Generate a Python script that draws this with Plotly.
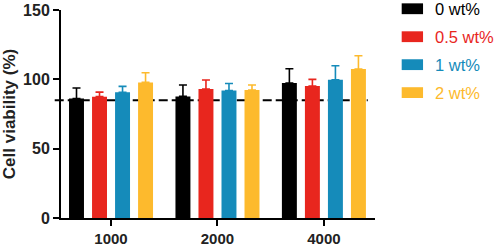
import plotly.graph_objects as go

categories = ["1000", "2000", "4000"]
series_names = ["0 wt%", "0.5 wt%", "1 wt%", "2 wt%"]
values = [
    [86.2, 87.7, 97.3],
    [87.5, 93.0, 95.2],
    [90.6, 92.0, 99.7],
    [97.8, 92.3, 107.4],
]
errors = [
    [7.5, 8.2, 10.3],
    [3.3, 6.5, 4.8],
    [4.3, 5.0, 10.1],
    [7.0, 3.6, 9.6],
]
threshold = 85
y_ticks = [0, 50, 100, 150]
colors = ["#000000", "#E8261E", "#158BBA", "#FDBA2D"]

fig = go.Figure()
for name, vals, err, col in zip(series_names, values, errors, colors):
    fig.add_trace(go.Bar(
        x=categories, y=vals, name=name,
        marker=dict(color=col, line=dict(width=0)),
        error_y=dict(type="data", array=err, arrayminus=[0] * len(err), symmetric=False,
                     color=col, thickness=1.6, width=4),
        showlegend=False,
    ))

# threshold dashed line
fig.add_shape(type="line", xref="paper", yref="y", x0=-0.02, x1=0.977, y0=threshold, y1=threshold,
              line=dict(color="black", width=2, dash="9px,4px"), layer="below")

# manual legend
for i, (name, col) in enumerate(zip(series_names, colors)):
    yc = 1.006 - i * 0.1344
    fig.add_shape(type="rect", xref="paper", yref="paper", x0=1.085, x1=1.153,
                  y0=yc - 0.026, y1=yc + 0.026, fillcolor=col, line=dict(width=0))
    fig.add_annotation(xref="paper", yref="paper", x=1.19, y=yc, text=name, showarrow=False,
                       xanchor="left", yanchor="middle", xshift=-2,
                       font=dict(family="Arial, Liberation Sans", size=16.5, color=col))

xtickfont = dict(size=15, family="Arial, Liberation Sans", weight="bold", color="#222")
ytickfont = dict(size=16, family="Arial, Liberation Sans", weight="bold", color="#222")
fig.update_layout(
    width=498, height=246,
    margin=dict(l=61, r=123, t=10, b=28),
    paper_bgcolor="white", plot_bgcolor="white",
    barmode="group", bargap=0.135, bargroupgap=0.35,
    font=dict(family="Arial, Liberation Sans", color="black"),
    xaxis=dict(range=[-0.47, 2.48], showline=True, linecolor="black", linewidth=2,
               ticks="outside", ticklen=6, tickwidth=2, tickcolor="black",
               tickfont=xtickfont, automargin=False,
               showgrid=False, zeroline=False),
    yaxis=dict(range=[0, 150], tickvals=y_ticks, showline=True, linecolor="black", linewidth=2,
               ticks="outside", ticklen=6, tickwidth=2, tickcolor="black",
               tickfont=ytickfont, automargin=False,
               title=dict(text="Cell viability (%)", font=dict(size=17, weight="bold", color="#222"),
                          standoff=4),
               showgrid=False, zeroline=False),
)

fig.write_html("out.html", config={"displayModeBar": False},
               post_script="document.body.style.margin='0';")
